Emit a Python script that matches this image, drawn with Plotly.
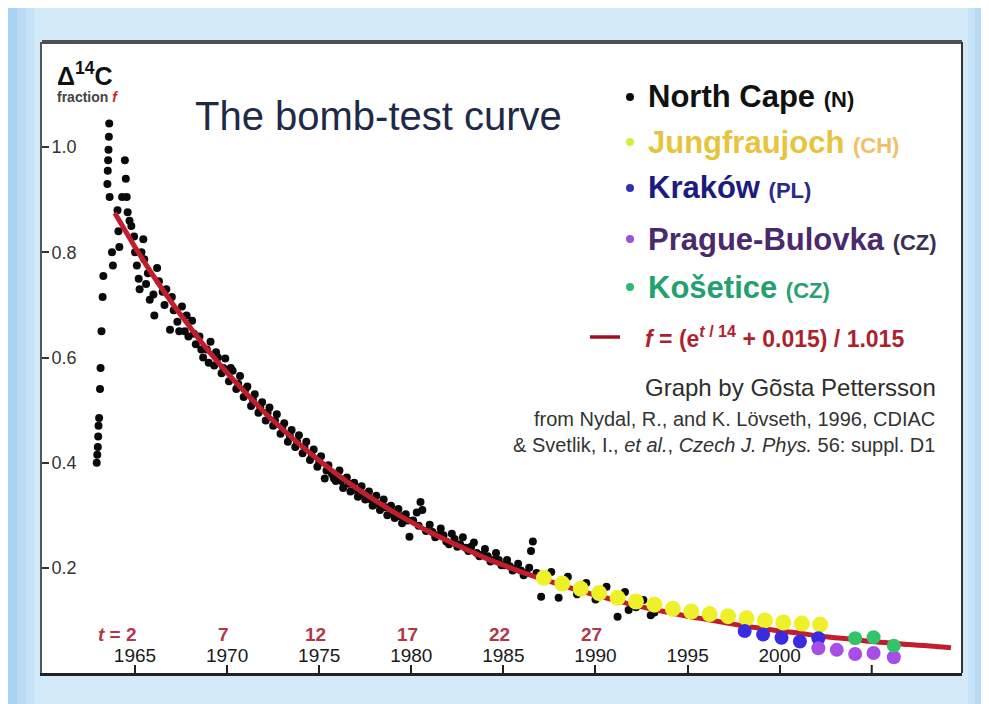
import plotly.graph_objects as go

# ---------------- data ----------------
fit_years = [1963.9] + list(range(1964, 2010)) + [2009.3]
fit_values = [0.875,
              0.869, 0.810, 0.755, 0.704, 0.657, 0.612, 0.571, 0.533, 0.497, 0.464,
              0.433, 0.404, 0.377, 0.352, 0.329, 0.307, 0.287, 0.268, 0.251, 0.235,
              0.219, 0.205, 0.192, 0.180, 0.169, 0.158, 0.148, 0.139, 0.130, 0.122,
              0.115, 0.108, 0.102, 0.096, 0.090, 0.085, 0.080, 0.076, 0.071, 0.067,
              0.064, 0.060, 0.057, 0.054, 0.052, 0.049, 0.048]

nc_years = [1962.92, 1962.95, 1962.98, 1963.00, 1963.02, 1963.05, 1963.10, 1963.13, 1963.18, 1963.24,
            1963.28, 1963.50, 1963.52, 1963.54, 1963.56, 1963.58, 1963.60, 1963.62, 1963.75, 1963.80,
            1964.05, 1964.10, 1964.15, 1964.45, 1964.50, 1964.55, 1964.60, 1964.80, 1964.95, 1965.00,
            1965.20, 1965.25, 1965.45, 1965.50, 1965.70, 1965.80, 1966.05, 1966.30, 1966.50, 1966.70,
            1966.90, 1967.10, 1967.30, 1967.55, 1967.70, 1967.90, 1968.10, 1968.30, 1968.50, 1968.70,
            1968.90, 1969.10, 1969.30, 1969.50, 1969.70, 1969.90, 1970.10, 1970.30, 1970.50, 1970.70,
            1970.90, 1971.10, 1971.30, 1971.50, 1971.70, 1971.90, 1972.10, 1972.30, 1972.50, 1972.70,
            1972.90, 1973.10, 1973.30, 1973.50, 1973.70, 1973.90, 1974.10, 1974.30, 1974.50, 1974.70,
            1974.90, 1975.10, 1975.30, 1975.50, 1975.70, 1975.90, 1976.10, 1976.30, 1976.50, 1976.70,
            1976.90, 1977.10, 1977.30, 1977.50, 1977.70, 1977.90, 1978.10, 1978.30, 1978.50, 1978.70,
            1978.90, 1979.10, 1979.30, 1979.50, 1979.70, 1979.90, 1980.10, 1980.30, 1980.50, 1980.60,
            1980.80, 1981.00, 1981.30, 1981.60, 1981.90, 1982.20, 1982.50, 1982.80, 1983.10, 1983.40,
            1983.70, 1984.00, 1984.30, 1984.60, 1984.90, 1985.20, 1985.50, 1985.80, 1986.10, 1986.40,
            1986.50, 1986.60, 1986.80, 1987.05, 1987.60, 1988.00, 1988.50, 1989.00, 1989.50, 1990.00,
            1990.60, 1991.20, 1991.60, 1991.80, 1992.20, 1992.60, 1993.00, 1993.20,
            1964.30, 1964.70, 1965.10, 1965.35, 1965.60, 1966.00, 1966.20, 1966.60, 1967.00, 1967.40,
            1967.80, 1968.20, 1968.60, 1969.00, 1969.40, 1969.80, 1970.20, 1970.60, 1971.00, 1971.40,
            1971.80, 1972.20, 1972.60, 1973.00, 1973.40, 1973.80, 1974.20, 1974.60, 1975.00, 1975.40,
            1975.80, 1976.20, 1976.60, 1977.00, 1977.40, 1977.80, 1978.20, 1978.60, 1979.00, 1979.40,
            1979.80, 1980.40, 1981.15, 1981.45, 1981.75, 1982.05, 1982.35, 1982.65, 1982.95, 1983.25,
            1983.55, 1983.85, 1984.15, 1984.45, 1984.75, 1985.05, 1985.35, 1985.65, 1985.95, 1986.25]
nc_values = [0.400, 0.415, 0.430, 0.450, 0.470, 0.485, 0.540, 0.580, 0.650, 0.715,
             0.755, 0.930, 0.955, 0.975, 0.995, 1.020, 1.045, 0.905, 0.800, 0.775,
             0.880, 0.840, 0.810, 0.975, 0.940, 0.905, 0.876, 0.850, 0.830, 0.800,
             0.750, 0.730, 0.825, 0.787, 0.760, 0.710, 0.680, 0.745, 0.725, 0.730,
             0.653, 0.690, 0.668, 0.697, 0.650, 0.640, 0.670, 0.625, 0.640, 0.600,
             0.615, 0.630, 0.585, 0.600, 0.570, 0.598, 0.555, 0.575, 0.540, 0.565,
             0.525, 0.545, 0.508, 0.530, 0.495, 0.515, 0.480, 0.505, 0.470, 0.492,
             0.455, 0.475, 0.440, 0.462, 0.430, 0.452, 0.418, 0.440, 0.405, 0.425,
             0.392, 0.412, 0.370, 0.395, 0.378, 0.365, 0.385, 0.352, 0.372, 0.345,
             0.362, 0.335, 0.355, 0.330, 0.345, 0.318, 0.337, 0.310, 0.330, 0.300,
             0.318, 0.295, 0.312, 0.285, 0.302, 0.259, 0.290, 0.305, 0.325, 0.310,
             0.270, 0.282, 0.258, 0.275, 0.250, 0.265, 0.240, 0.258, 0.232, 0.248,
             0.222, 0.236, 0.212, 0.228, 0.205, 0.215, 0.195, 0.208, 0.186, 0.200,
             0.232, 0.250, 0.190, 0.145, 0.192, 0.143, 0.183, 0.150, 0.171, 0.140,
             0.164, 0.107, 0.154, 0.120, 0.125, 0.139, 0.110, 0.115,
             0.905, 0.860, 0.775, 0.800, 0.740, 0.720, 0.770, 0.700, 0.715, 0.650,
             0.680, 0.645, 0.615, 0.590, 0.610, 0.580, 0.580, 0.550, 0.540, 0.520,
             0.505, 0.495, 0.480, 0.468, 0.452, 0.440, 0.430, 0.412, 0.400, 0.385,
             0.370, 0.365, 0.360, 0.348, 0.340, 0.330, 0.322, 0.315, 0.305, 0.298,
             0.290, 0.280, 0.268, 0.262, 0.262, 0.245, 0.255, 0.245, 0.238, 0.240,
             0.228, 0.225, 0.222, 0.215, 0.215, 0.205, 0.203, 0.198, 0.195, 0.190]

jf_years = [1987.2, 1988.2, 1989.2, 1990.2, 1991.2, 1992.2, 1993.2, 1994.2,
            1995.2, 1996.2, 1997.2, 1998.2, 1999.2, 2000.2, 2001.2, 2002.2]
jf_values = [0.181, 0.170, 0.160, 0.152, 0.143, 0.136, 0.130, 0.122,
             0.117, 0.112, 0.108, 0.104, 0.100, 0.096, 0.094, 0.092]

kr_years = [1998.1, 1999.1, 2000.1, 2001.1, 2002.1]
kr_values = [0.080, 0.073, 0.067, 0.060, 0.066]

pb_years = [2002.1, 2003.1, 2004.1, 2005.1, 2006.2]
pb_values = [0.047, 0.044, 0.036, 0.038, 0.030]

ko_years = [2004.1, 2005.1, 2006.2]
ko_values = [0.066, 0.068, 0.052]

year_ticks = [1965, 1970, 1975, 1980, 1985, 1990, 1995, 2000]
year_tick_labels = ["1965", "1970", "1975", "1980", "1985", "1990", "1995", "2000"]
unlabelled_tick_years = [2005]
t_label_years = [1965, 1970, 1975, 1980, 1985, 1990]
t_label_texts = ["t = 2", "7", "12", "17", "22", "27"]
y_ticks = [0.2, 0.4, 0.6, 0.8, 1.0]
y_tick_labels = ["0.2", "0.4", "0.6", "0.8", "1.0"]

# ---------------- layout helpers (page pixel coordinates; body margin is 8px) ----------------
OFF = 8
W, H = 989 - OFF, 704 - OFF
L, R, T, B = 34, 27, 34, 31
PW, PH = W - L - R, H - T - B


def px(x):
    return (x - OFF - L) / PW


def py(y):
    return (H - B - (y - OFF)) / PH


FONT = "Liberation Sans, Arial, sans-serif"

fig = go.Figure()

fig.add_trace(go.Scatter(x=nc_years, y=nc_values, mode="markers",
                         marker=dict(color="#0a0a0a", size=8), showlegend=False,
                         name="North Cape"))
fig.add_trace(go.Scatter(x=fit_years, y=fit_values, mode="lines",
                         line=dict(color="#c01e2c", width=5, shape="spline"),
                         showlegend=False, name="fit"))
fig.add_trace(go.Scatter(x=jf_years, y=jf_values, mode="markers",
                         marker=dict(color="#eef02a", size=16), showlegend=False,
                         name="Jungfraujoch"))
fig.add_trace(go.Scatter(x=kr_years, y=kr_values, mode="markers",
                         marker=dict(color="#3b2be0", size=14), showlegend=False,
                         name="Kraków"))
fig.add_trace(go.Scatter(x=pb_years, y=pb_values, mode="markers",
                         marker=dict(color="#a64ee6", size=14), showlegend=False,
                         name="Prague-Bulovka"))
fig.add_trace(go.Scatter(x=ko_years, y=ko_values, mode="markers",
                         marker=dict(color="#33c46a", size=14), showlegend=False,
                         name="Košetice"))

annotations = []
shapes = []

# t labels
for yr, txt in zip(t_label_years, t_label_texts):
    if txt.startswith("t"):
        annotations.append(dict(x=yr, y=0.073, xref="x", yref="y",
                                text="<b><i>t</i> = " + txt.split("=")[1].strip() + "</b>",
                                showarrow=False, xanchor="right", xshift=4,
                                font=dict(family=FONT, size=19, color="#b23848")))
    else:
        annotations.append(dict(x=yr - 0.2, y=0.073, xref="x", yref="y", text="<b>" + txt + "</b>",
                                showarrow=False, xanchor="center",
                                font=dict(family=FONT, size=19, color="#b23848")))

# unlabelled tick(s)
for yr in unlabelled_tick_years:
    shapes.append(dict(type="line", xref="x", yref="paper", x0=yr, x1=yr, y0=0, y1=8 / PH,
                       line=dict(color="#222", width=2)))

# axis title
annotations.append(dict(x=px(55), y=py(74), xref="paper", yref="paper", xanchor="left", yanchor="middle",
                        text="<b>Δ<sup>14</sup>C</b>", showarrow=False,
                        font=dict(family=FONT, size=25, color="#111")))
annotations.append(dict(x=px(55), y=py(97), xref="paper", yref="paper", xanchor="left", yanchor="middle",
                        text="<b>fraction <span style='color:#d02030'><i>f</i></span></b>", showarrow=False,
                        font=dict(family=FONT, size=14, color="#444")))
# title
annotations.append(dict(x=px(378), y=py(116), xref="paper", yref="paper", xanchor="center", yanchor="middle",
                        text="The bomb-test curve", showarrow=False,
                        font=dict(family=FONT, size=40, color="#1e2a48")))

# legend
legend_rows = [
    ("North Cape", "(N)", "#111111", "#111111", "#0a0a0a", 97),
    ("Jungfraujoch", "(CH)", "#e6c43c", "#f0c068", "#d8ec3c", 142),
    ("Kraków", "(PL)", "#1c1c80", "#2a2a8a", "#3030b8", 188),
    ("Prague-Bulovka", "(CZ)", "#4a2a6c", "#3c3050", "#a050d8", 239),
    ("Košetice", "(CZ)", "#23a070", "#2aa070", "#30b874", 287),
]
for name, code, c1, c2, cdot, yy in legend_rows:
    annotations.append(dict(x=px(646), y=py(yy), xref="paper", yref="paper", xanchor="left", yanchor="middle",
                            text=f"<b>{name}</b> <b><span style='font-size:22px;color:{c2}'>{code}</span></b>",
                            showarrow=False, font=dict(family=FONT, size=31, color=c1)))
    shapes.append(dict(type="circle", xref="paper", yref="paper",
                       x0=px(626), x1=px(634), y0=py(yy + 4), y1=py(yy - 4),
                       fillcolor=cdot, line=dict(width=0)))
# formula legend
shapes.append(dict(type="line", xref="paper", yref="paper", x0=px(590), x1=px(620), y0=py(337), y1=py(337),
                   line=dict(color="#a01022", width=3.5)))
annotations.append(dict(x=px(643), y=py(337), xref="paper", yref="paper", xanchor="left", yanchor="middle",
                        text="<b><i>f</i> = (e<sup><i>t</i> / 14</sup> + 0.015) / 1.015</b>",
                        showarrow=False, font=dict(family=FONT, size=23, color="#b01f2c")))

# credits
annotations.append(dict(x=px(938), y=py(387), xref="paper", yref="paper", xanchor="right", yanchor="middle",
                        text="Graph by Gõsta Pettersson", showarrow=False,
                        font=dict(family=FONT, size=24, color="#2e2e2e")))
annotations.append(dict(x=px(937), y=py(419), xref="paper", yref="paper", xanchor="right", yanchor="middle",
                        text="from Nydal, R., and K. Lövseth, 1996, CDIAC", showarrow=False,
                        font=dict(family=FONT, size=20, color="#333")))
annotations.append(dict(x=px(937), y=py(445), xref="paper", yref="paper", xanchor="right", yanchor="middle",
                        text="& Svetlik, I., <i>et al.</i>, <i>Czech J. Phys.</i> 56: suppl. D1", showarrow=False,
                        font=dict(family=FONT, size=20, color="#333")))

# frame lines
shapes.append(dict(type="line", xref="paper", yref="paper", x0=0, x1=1, y0=1, y1=1,
                   line=dict(color="#505050", width=4)))
shapes.append(dict(type="line", xref="paper", yref="paper", x0=1, x1=1, y0=0, y1=1,
                   line=dict(color="#333", width=2)))
# soft gradient bands of the outer background (left and right edges)
band_colors = ["#a9d2f3", "#b8daf5", "#c6e2f7"]
for i, col in enumerate(band_colors):
    shapes.append(dict(type="rect", xref="paper", yref="paper",
                       x0=px(OFF + 9 * i), x1=px(OFF + 9 * (i + 1)), y0=py(704), y1=py(OFF),
                       fillcolor=col, line=dict(width=0), layer="below"))
    shapes.append(dict(type="rect", xref="paper", yref="paper",
                       x0=px(989 - 7 * (i + 1)), x1=px(989 - 7 * i), y0=py(704), y1=py(OFF),
                       fillcolor=col, line=dict(width=0), layer="below"))

fig.update_layout(
    width=W, height=H,
    margin=dict(l=L, r=R, t=T, b=B, pad=0),
    paper_bgcolor="#d3e9f8",
    plot_bgcolor="white",
    showlegend=False,
    annotations=annotations,
    shapes=shapes,
    xaxis=dict(range=[1959.95, 2009.9], showgrid=False, zeroline=False,
               showline=True, linecolor="#222", linewidth=2.5,
               tickmode="array", tickvals=year_ticks, ticktext=year_tick_labels,
               ticks="inside", ticklen=8, tickwidth=2, tickcolor="#222",
               ticklabelposition="inside",
               tickfont=dict(family=FONT, size=19, color="#1a1a1a")),
    yaxis=dict(range=[0, 1.2], showgrid=False, zeroline=False,
               showline=True, linecolor="#555", linewidth=2,
               tickmode="array", tickvals=y_ticks, ticktext=y_tick_labels,
               ticks="inside", ticklen=7, tickwidth=2, tickcolor="#333",
               ticklabelposition="inside", ticklabelstandoff=3,
               tickfont=dict(family=FONT, size=18, color="#333")),
)

fig.write_html("out.html")
